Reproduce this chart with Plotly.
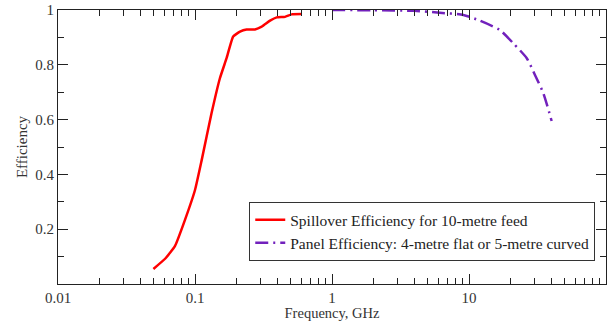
import plotly.graph_objects as go

# Spillover efficiency (red)
spill_f = [0.0497, 0.061, 0.0715, 0.0845, 0.1, 0.112, 0.132, 0.152, 0.170, 0.190,
           0.213, 0.238, 0.274, 0.307, 0.353, 0.395, 0.454, 0.508, 0.601]
spill_e = [0.055, 0.094, 0.139, 0.234, 0.343, 0.453, 0.623, 0.751, 0.824, 0.903,
           0.921, 0.929, 0.929, 0.939, 0.961, 0.973, 0.975, 0.984, 0.985]

# Panel efficiency (purple)
panel_f = [1.0, 2.0, 4.0, 6.1, 9.1, 12.0, 16.8, 21.1, 26.4, 30.3, 34.9, 40.1]
panel_e = [1.0, 0.999, 0.997, 0.99, 0.982, 0.961, 0.927, 0.878, 0.824, 0.763, 0.696, 0.595]

x_tickvals = [0.01, 0.1, 1, 10, 100]
x_ticktext = ["0.01", "0.1", "1", "10", "100"]
x_minor = [m * d for d in (0.01, 0.1, 1, 10) for m in range(2, 10)]
y_tickvals = [0.2, 0.4, 0.6, 0.8, 1.0]
y_ticktext = ["0.2", "0.4", "0.6", "0.8", "1"]
y_minor = [0.1, 0.3, 0.5, 0.7, 0.9]

font = "Liberation Serif"
axcol = "#222222"

fig = go.Figure()
fig.add_trace(go.Scatter(x=spill_f, y=spill_e, mode="lines",
                         name="Spillover Efficiency for 10-metre feed",
                         line=dict(color="#ff0000", width=2.5, shape="spline", smoothing=0.4)))
fig.add_trace(go.Scatter(x=panel_f, y=panel_e, mode="lines",
                         name="Panel Efficiency: 4-metre flat or 5-metre curved",
                         line=dict(color="#7221bc", width=2.5, dash="13px,5px,2px,5px",
                                   shape="spline", smoothing=0.6)))
# invisible trace to carry the minor-tick axes
fig.add_trace(go.Scatter(x=[0.01, 100], y=[0, 1], xaxis="x2", yaxis="y2", mode="lines",
                         line=dict(width=0, color="rgba(0,0,0,0)"),
                         showlegend=False, hoverinfo="skip"))

base = dict(ticks="inside", tickwidth=1, tickcolor=axcol,
            showline=True, linecolor=axcol, linewidth=1, mirror="ticks",
            gridcolor="rgba(0,0,0,0)", zerolinecolor=axcol)

fig.update_layout(
    template="none",
    width=616, height=321,
    margin=dict(l=58, r=10, t=10, b=37),
    font=dict(family=font, size=15, color="#333333"),
    showlegend=True,
    legend=dict(x=0.349, y=0.299, xanchor="left", yanchor="top",
                bgcolor="white", bordercolor="#333333", borderwidth=1,
                font=dict(family=font, size=15.5, color="#222222"),
                tracegroupgap=0, itemwidth=30),
    xaxis=dict(type="log", range=[-2, 2], tickvals=x_tickvals, ticktext=x_ticktext,
               ticklen=10,
               title=dict(text="Frequency, GHz", font=dict(size=14.5, family=font), standoff=1),
               **base),
    yaxis=dict(range=[0, 1], tickvals=y_tickvals, ticktext=y_ticktext, ticklen=10,
               title=dict(text="Efficiency", font=dict(size=15, family=font), standoff=4),
               **base),
    xaxis2=dict(type="log", range=[-2, 2], overlaying="x", side="bottom", anchor="y2",
                tickvals=x_minor, showticklabels=False, ticklen=6, **base),
    yaxis2=dict(range=[0, 1], overlaying="y", side="left", anchor="x2",
                tickvals=y_minor, showticklabels=False, ticklen=6, **base),
)

fig.write_html("out.html", config={"displayModeBar": False},
               post_script="document.body.style.margin='0';document.body.style.padding='0';")
